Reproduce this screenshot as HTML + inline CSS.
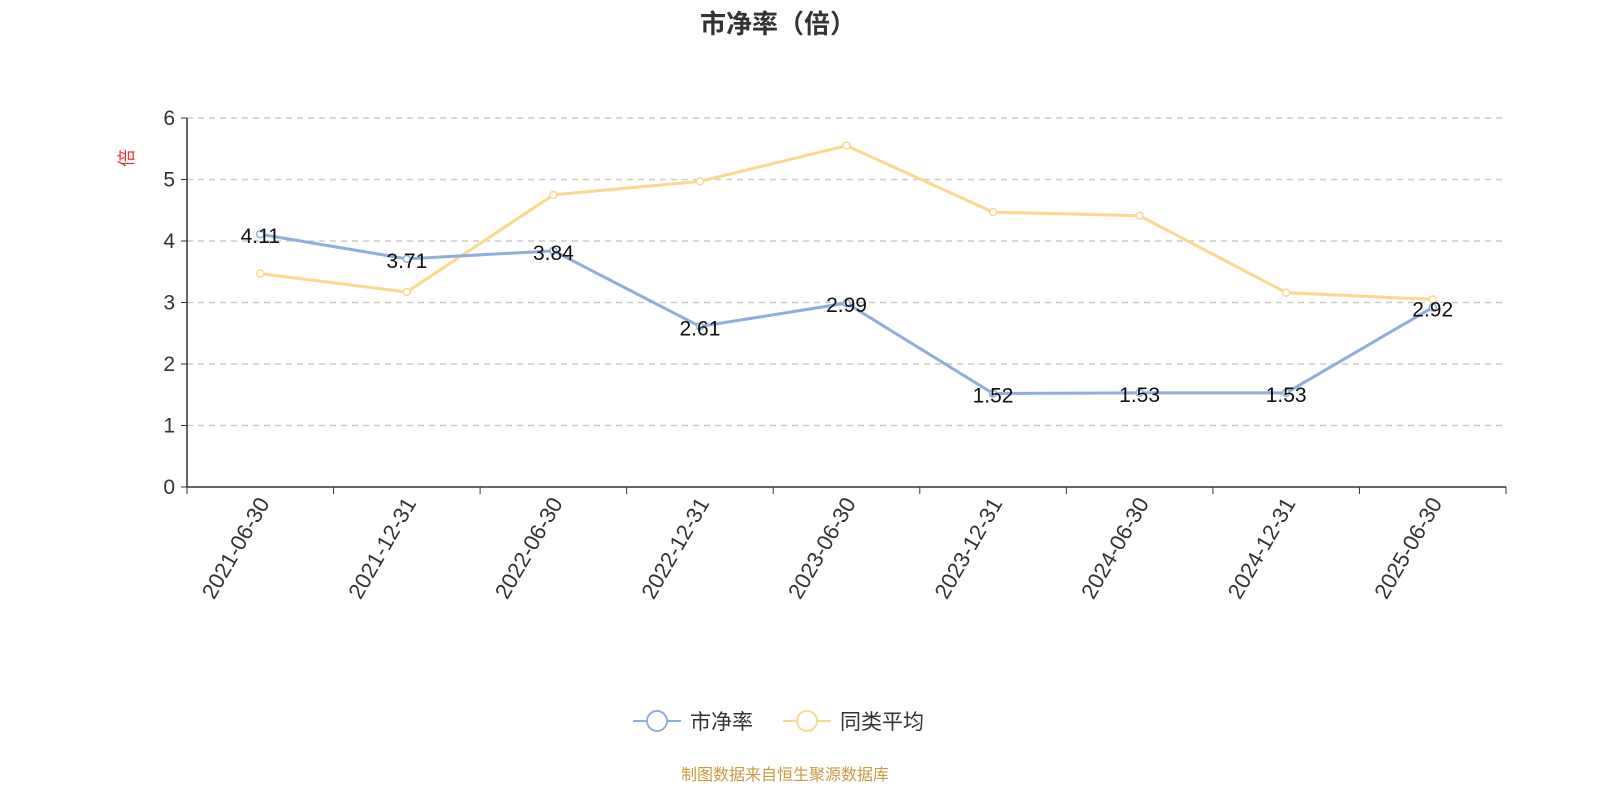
<!DOCTYPE html>
<html><head><meta charset="utf-8"><style>
html,body{margin:0;padding:0;background:#fff;overflow:hidden;width:1600px;height:800px;font-family:"Liberation Sans","Noto Sans CJK SC",sans-serif}
svg{display:block}
</style></head><body>
<svg width="1600" height="800" viewBox="0 0 1600 800" xmlns="http://www.w3.org/2000/svg" font-family="Liberation Sans, Noto Sans CJK SC, sans-serif">
<text x="778" y="33" text-anchor="middle" font-size="26" font-weight="bold" fill="#333">市净率（倍）</text>
<text x="0" y="0" transform="translate(133,158) rotate(-90)" text-anchor="middle" font-size="18" fill="#e33">倍</text>
<g id="grid"></g><g id="axes"></g><g id="series"></g>
<g>
<g><line x1="633" y1="721" x2="681" y2="721" stroke="#8eaedb" stroke-width="2"/><circle cx="657" cy="721" r="10" fill="#fff" stroke="#8eaedb" stroke-width="2"/><text x="690" y="729" font-size="21" fill="#333">市净率</text></g>
<g><line x1="783" y1="721" x2="831" y2="721" stroke="#fbd88f" stroke-width="2"/><circle cx="807" cy="721" r="10" fill="#fff" stroke="#fbd88f" stroke-width="2"/><text x="840" y="729" font-size="21" fill="#333">同类平均</text></g>
</g>
<text x="785" y="780" text-anchor="middle" font-size="16" fill="#c89b3c">制图数据来自恒生聚源数据库</text>
</svg>
<script>
const categories=["2021-06-30","2021-12-31","2022-06-30","2022-12-31","2023-06-30","2023-12-31","2024-06-30","2024-12-31","2025-06-30"];
const pbValues=[4.11,3.71,3.84,2.61,2.99,1.52,1.53,1.53,2.92];
const avgValues=[3.47,3.17,4.75,4.97,5.55,4.47,4.41,3.16,3.05];
const yTicks=[0,1,2,3,4,5,6];
const NS="http://www.w3.org/2000/svg";
const x0=187,x1=1506,y0=487,y1=118,yMax=6;
const bw=(x1-x0)/categories.length;
const X=i=>x0+bw*(i+0.5);
const Y=v=>y0-(v/yMax)*(y0-y1);
function mk(t,a,p){const e=document.createElementNS(NS,t);for(const k in a)e.setAttribute(k,a[k]);p.appendChild(e);return e;}
const grid=document.getElementById('grid'),axes=document.getElementById('axes'),ser=document.getElementById('series');
yTicks.forEach(v=>{
 if(v>0){const g=mk('line',{x1:x0,x2:x1,y1:Y(v),y2:Y(v),stroke:'#ccc','stroke-dasharray':'6,5','stroke-width':1.5},grid);
 
 }
 const t=mk('text',{x:x0-12,y:Y(v)+7,'text-anchor':'end','font-size':21,fill:'#333'},axes);t.textContent=v;
 
 
 mk('line',{x1:x0-6,x2:x0,y1:Y(v),y2:Y(v),stroke:'#333'},axes);
});
mk('line',{x1:x0,x2:x0,y1:y1,y2:y0,stroke:'#333','stroke-width':1.5},axes);
mk('line',{x1:x0,x2:x1,y1:y0,y2:y0,stroke:'#333','stroke-width':1.5},axes);
for(let i=0;i<=categories.length;i++)mk('line',{x1:x0+bw*i,x2:x0+bw*i,y1:y0,y2:y0+7,stroke:'#333'},axes);
categories.forEach((c,i)=>{
 const t=mk('text',{transform:`translate(${X(i)+10},${y0+16}) rotate(-60)`,'text-anchor':'end','font-size':22,fill:'#333'},axes);t.textContent=c;
 
 
});
function line(vals,color,name,labels){
 const p=mk('polyline',{points:vals.map((v,i)=>X(i)+','+Y(v)).join(' '),fill:'none',stroke:color,'stroke-width':3},ser);
 
 
 vals.forEach((v,i)=>{
  const c=mk('circle',{cx:X(i),cy:Y(v),r:3.5,fill:'#fff',stroke:color,'stroke-width':1.5},ser);
  
  
  if(labels){const t=mk('text',{x:X(i),y:Y(v)+9,'text-anchor':'middle','font-size':21,fill:'#111'},ser);t.textContent=v.toFixed(2);
  
  }
 });
}
line(avgValues,'#fbd88f','avg',false);
line(pbValues,'#8eaedb','pb',true);
</script>
</body></html>
